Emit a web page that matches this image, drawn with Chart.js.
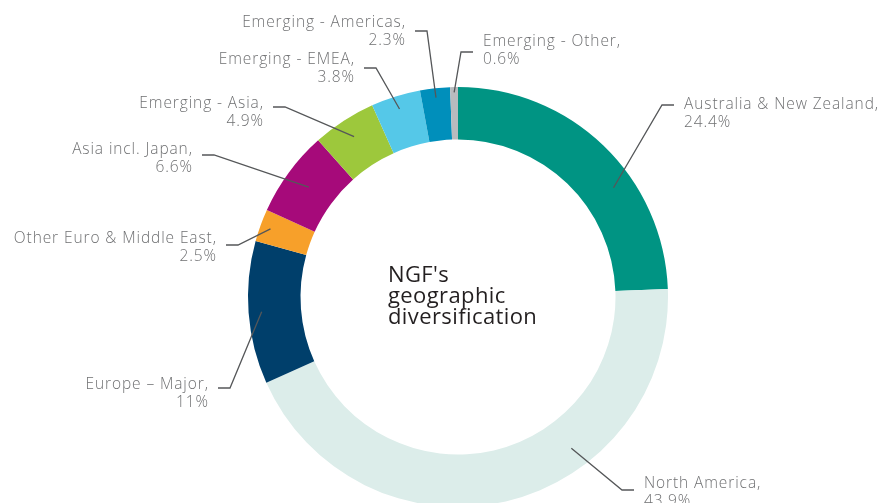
<!DOCTYPE html>
<html lang="en">
<head>
<meta charset="UTF-8">
<title>NGF's geographic diversification</title>
<script src="https://cdn.jsdelivr.net/npm/chart.js"></script>
<style>
  html, body { margin: 0; padding: 0; background: #fff; overflow: hidden; }
  #wrap { width: 879px; height: 520px; }
</style>
</head>
<body>
<div id="wrap"><canvas id="chart" width="879" height="520"></canvas></div>
<script>
// data, clockwise from 12 o'clock
const regions = [
    ['Australia & New Zealand,', '24.4%'],
    ['North America,', '43.9%'],
    ['Europe \u2013 Major,', '11%'],
    ['Other Euro & Middle East,', '2.5%'],
    ['Asia incl. Japan,', '6.6%'],
    ['Emerging - Asia,', '4.9%'],
    ['Emerging - EMEA,', '3.8%'],
    ['Emerging - Americas,', '2.3%'],
    ['Emerging - Other,', '0.6%']
];
const shares = [24.4, 43.9, 11, 2.5, 6.6, 4.9, 3.8, 2.3, 0.6];
const colours = ['#009483', '#dcedea', '#003f6b', '#f7a02a', '#a60a7a',
                 '#9dc83c', '#55c8e8', '#008fbb', '#b8bbbe'];
const centreTitle = ["NGF's", 'geographic', 'diversification'];

// callout layout: text anchor relative to doughnut centre, leader y, where the leader hits the ring
const callouts = [
    { align: 'left',  dx: 226,  dy: -188, ly: -192, t: 0.625, rf: 0.62 },
    { align: 'left',  dx: 186,  dy: 191,  ly: 193,  t: 0.35,  rf: 0.6 },
    { align: 'right', dx: -250, dy: 92,   ly: 91,   t: 0.5,   rf: 0.75 },
    { align: 'right', dx: -242, dy: -54,  ly: -52,  t: 0.5,   rf: 0.8 },
    { align: 'right', dx: -266, dy: -143, ly: -142, t: 0.5,   rf: 0.53 },
    { align: 'right', dx: -195, dy: -189, ly: -190, t: 0.5,   rf: 0.64 },
    { align: 'right', dx: -104, dy: -233, ly: -229, t: 0.5,   rf: 0.75 },
    { align: 'right', dx: -53,  dy: -270, ly: -266, t: 0.5,   rf: 0.82 },
    { align: 'left',  dx: 25,   dy: -251, ly: -245, t: 0.5,   rf: 0.9 }
];

function drawText(ctx, text, x, y, align) {
    // letterSpacing adds trailing space, so shift right-aligned text back
    ctx.textAlign = align;
    ctx.fillText(text, align === 'right' ? x + 0.9 : x, y);
}

const calloutPlugin = {
    id: 'callouts',
    afterDatasetsDraw(chart) {
        const ctx = chart.ctx;
        const arcs = chart.getDatasetMeta(0).data;
        ctx.save();
        arcs.forEach(function(arc, i) {
            const p = arc.getProps(['x', 'y', 'startAngle', 'endAngle', 'innerRadius', 'outerRadius'], true);
            const c = callouts[i];
            const ang = p.startAngle + c.t * (p.endAngle - p.startAngle);
            const r = p.innerRadius + c.rf * (p.outerRadius - p.innerRadius);
            const px = p.x + Math.cos(ang) * r;
            const py = p.y + Math.sin(ang) * r;
            const tx = p.x + c.dx;
            const ty = p.y + c.dy;
            const dir = c.align === 'left' ? -1 : 1;
            const x0 = tx + dir * 10;
            const x1 = tx + dir * 22;
            const ly = p.y + c.ly;

            ctx.strokeStyle = '#555759';
            ctx.lineWidth = 1.3;
            ctx.beginPath();
            ctx.moveTo(x0, ly);
            ctx.lineTo(x1, ly);
            ctx.lineTo(px, py);
            ctx.stroke();

            ctx.fillStyle = '#6f7072';
            ctx.font = '300 15.5px "Open Sans"';
            ctx.letterSpacing = '0.9px';
            ctx.textBaseline = 'alphabetic';
            drawText(ctx, regions[i][0], tx, ty, c.align);
            drawText(ctx, regions[i][1], tx, ty + 17.5, c.align);
        });

        // centre title
        const cx = arcs[0].x, cy = arcs[0].y;
        ctx.fillStyle = '#231f20';
        ctx.font = '22px "Open Sans"';
        ctx.letterSpacing = '0.4px';
        ctx.textAlign = 'left';
        centreTitle.forEach(function(line, k) {
            ctx.fillText(line, cx - 70, cy - 15 + k * 21);
        });
        ctx.restore();
    }
};

new Chart(document.getElementById('chart'), {
    type: 'doughnut',
    data: {
        labels: regions.map(r => r[0]),
        datasets: [{
            data: shares,
            backgroundColor: colours,
            borderWidth: 0
        }]
    },
    options: {
        responsive: false,
        animation: false,
        cutout: '75%',
        layout: { padding: { top: 87, bottom: 13, left: 37, right: 0 } },
        plugins: {
            legend: { display: false },
            tooltip: { enabled: false }
        }
    },
    plugins: [calloutPlugin]
});
</script>
</body>
</html>
